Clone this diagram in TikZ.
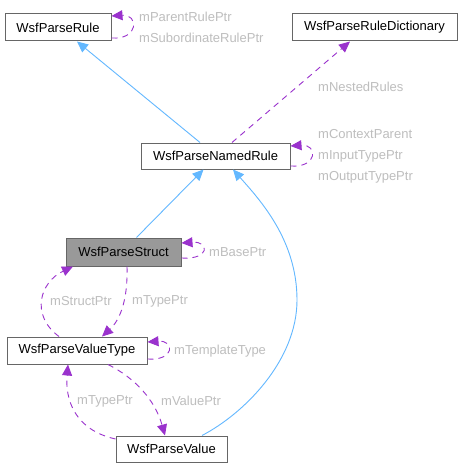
\documentclass[tikz,border=0pt]{standalone}
\usepackage{fontspec}
\setmainfont{Liberation Sans}
\usetikzlibrary{arrows.meta,calc}
\definecolor{inh}{HTML}{63B8FF}
\definecolor{usg}{HTML}{9A32CD}
\definecolor{lbl}{HTML}{BEBEBE}
\definecolor{bord}{HTML}{666666}
\definecolor{sel}{HTML}{999999}
\begin{document}
\begin{tikzpicture}[x=1pt,y=-1pt,
  cls/.style={draw=bord,line width=1pt,fill=white,inner sep=0pt,font=\fontsize{13}{15}\selectfont,text=black},
  inhline/.style={draw=inh,line width=0.9pt,-{Triangle[length=11pt,width=10pt]}},
  usgline/.style={draw=usg,line width=0.9pt,dash pattern=on 6pt off 5pt,-{Triangle[length=11pt,width=10pt]}},
  lab/.style={anchor=west,inner sep=0pt,text=lbl,font=\fontsize{13}{15}\selectfont}]
\useasboundingbox (0,0) rectangle (463,468);
\fill[white] (0,0) rectangle (463,468);
% classes
\node[cls,minimum width=106pt,minimum height=27pt] (rule) at (58,27.5) {WsfParseRule};
\node[cls,minimum width=165pt,minimum height=27pt] (dict) at (374.5,27.5) {WsfParseRuleDictionary};
\node[cls,minimum width=149pt,minimum height=26pt] (named) at (215.5,156) {WsfParseNamedRule};
\node[cls,fill=sel,minimum width=115pt,minimum height=28pt] (struct) at (123.5,252) {WsfParseStruct};
\node[cls,minimum width=140pt,minimum height=27pt] (vtype) at (77,350.5) {WsfParseValueType};
\node[cls,minimum width=111pt,minimum height=26pt] (value) at (171.5,449) {WsfParseValue};
% inheritance
\draw[inhline] ($(named.north)+(-15.5,0)$) -- ($(rule.south)+(19,0)$);
\draw[inhline] ($(struct.north)+(13,0)$) -- ($(named.south)+(-12,0)$);
\draw[inhline] ($(value.north)+(30.5,0)$) .. controls (245,413) and (297,360) .. (297,300)
   .. controls (297,240) and (260,200) .. ($(named.south)+(17.5,0)$);
% usage
\draw[usgline] ($(named.north)+(16.5,0)$) -- ($(dict.south)+(-24.5,0)$);
\draw[usgline] ($(rule.east)+(0,10.5)$) .. controls (139,40) and (139,14) .. ($(rule.east)+(0,-11.5)$);
\draw[usgline] ($(named.east)+(0,10)$) .. controls (318,168) and (318,144) .. ($(named.east)+(0,-10)$);
\draw[usgline] ($(struct.east)+(0,6)$) .. controls (210,260) and (210,241) .. ($(struct.east)+(0,-9)$);
\draw[usgline] ($(vtype.east)+(0,8.5)$) .. controls (175,361) and (175,340) .. ($(vtype.east)+(0,-8.5)$);
\draw[usgline] ($(vtype.north)+(-18,0)$) .. controls (30,315) and (40,282) .. ($(struct.south)+(-50.5,0)$);
\draw[usgline] ($(struct.south)+(3.5,0)$) .. controls (128,300) and (120,320) .. ($(vtype.north)+(25,0)$);
\draw[usgline] ($(vtype.south)+(31,0)$) .. controls (135,378) and (155,400) .. ($(value.north)+(-6.5,0)$);
\draw[usgline] ($(value.west)+(0,-10)$) .. controls (75,430) and (65,400) .. ($(vtype.south)+(-9,0)$);
% labels
\node[lab] (l1) at (139,17) {mParentRulePtr};
\node[lab] (l2) at (139,38) {mSubordinateRulePtr};
\node[lab] (l3) at (318,87) {mNestedRules};
\node[lab] (l4) at (318,134) {mContextParent};
\node[lab] (l5) at (318,156) {mInputTypePtr};
\node[lab] (l6) at (318,177) {mOutputTypePtr};
\node[lab] (l7) at (209,252) {mBasePtr};
\node[lab] (l8) at (50,301) {mStructPtr};
\node[lab] (l9) at (132,301) {mTypePtr};
\node[lab] (l10) at (174,351) {mTemplateType};
\node[lab] (l11) at (77,401) {mTypePtr};
\node[lab] (l12) at (161,401) {mValuePtr};
\end{tikzpicture}
\end{document}
